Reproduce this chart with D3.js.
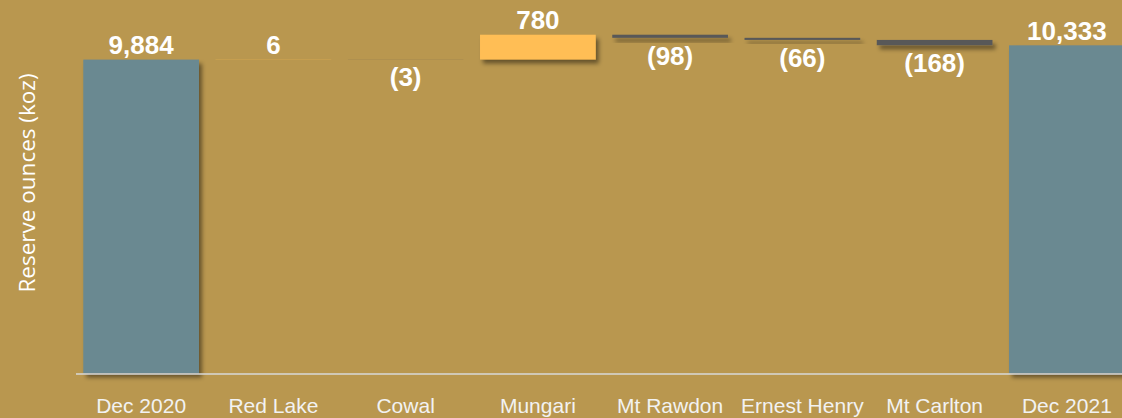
<!DOCTYPE html>
<html>
<head>
<meta charset="utf-8">
<script src="https://cdn.jsdelivr.net/npm/d3@7"></script>
<style>
  html, body { margin: 0; padding: 0; background: #B9974F; }
  svg { display: block; }
</style>
</head>
<body>
<div id="chart"></div>
<script>
// reserve reconciliation, koz
var categories = ["Dec 2020", "Red Lake", "Cowal", "Mungari", "Mt Rawdon", "Ernest Henry", "Mt Carlton", "Dec 2021"];
var values = [9884, 6, -3, 780, -98, -66, -168, 10333];
var kinds = ["total", "delta", "delta", "delta", "delta", "delta", "delta", "total"];

var width = 1122, height = 418;

var colors = {
    total: "#6B8991",
    up: "#FFBE55",
    down: "#595959"
};

// build running totals
var rows = [];
var running = 0;
categories.forEach(function (c, i) {
    var v = values[i];
    var r = { name: c, value: v, kind: kinds[i] };
    if (kinds[i] === "total") {
        r.y0 = 0;
        r.y1 = v;
        running = v;
        r.type = "total";
    } else {
        r.y0 = running;
        r.y1 = running + v;
        running = running + v;
        r.type = v >= 0 ? "up" : "down";
    }
    rows.push(r);
});

var fmt = d3.format(",");

var svg = d3.select("#chart")
    .append("svg")
    .attr("width", width)
    .attr("height", height);

svg.append("rect")
    .attr("width", width)
    .attr("height", height)
    .attr("fill", "#B9974F");

var defs = svg.append("defs");
defs.append("filter")
    .attr("id", "shadow")
    .attr("x", "-10%").attr("y", "-50%")
    .attr("width", "130%").attr("height", "300%")
    .append("feDropShadow")
    .attr("dx", 3)
    .attr("dy", 4)
    .attr("stdDeviation", 2)
    .attr("flood-color", "#000")
    .attr("flood-opacity", 0.45);

var xScale = d3.scaleBand()
    .domain(categories)
    .range([75, 1133])
    .paddingInner(0.125)
    .paddingOuter(0.0625);

var yScale = d3.scaleLinear()
    .domain([0, 11760])
    .range([373.5, 0]);

/* bars */
svg.selectAll(".bar")
    .data(rows)
    .enter()
    .append("rect")
    .attr("class", "bar")
    .attr("x", function (d) { return xScale(d.name); })
    .attr("width", xScale.bandwidth())
    .attr("y", function (d) { return yScale(Math.max(d.y0, d.y1)); })
    .attr("height", function (d) { return Math.abs(yScale(d.y0) - yScale(d.y1)); })
    .attr("fill", function (d) { return colors[d.type]; })
    .attr("filter", "url(#shadow)");

/* axis line */
svg.append("line")
    .attr("x1", 76)
    .attr("x2", width)
    .attr("y1", yScale(0) + 0.5)
    .attr("y2", yScale(0) + 0.5)
    .attr("stroke", "#D9D9D9")
    .attr("stroke-width", 1.5);

/* category labels */
svg.selectAll(".cat")
    .data(rows)
    .enter()
    .append("text")
    .attr("class", "cat")
    .attr("x", function (d) { return xScale(d.name) + xScale.bandwidth() / 2; })
    .attr("y", 413)
    .attr("text-anchor", "middle")
    .attr("fill", "#F2F2F2")
    .style("font-family", "'Liberation Sans', Arial, sans-serif")
    .style("font-size", "21px")
    .text(function (d) { return d.name; });

/* value labels */
svg.selectAll(".val")
    .data(rows)
    .enter()
    .append("text")
    .attr("class", "val")
    .attr("x", function (d) { return xScale(d.name) + xScale.bandwidth() / 2; })
    .attr("y", function (d) {
        if (d.value >= 0) return yScale(Math.max(d.y0, d.y1)) - 5.5;
        return yScale(Math.min(d.y0, d.y1)) + 27;
    })
    .attr("text-anchor", "middle")
    .attr("fill", "#FFFFFF")
    .style("font-family", "'Liberation Sans', Arial, sans-serif")
    .style("font-weight", "bold")
    .style("font-size", "26px")
    .text(function (d) {
        return d.value < 0 ? "(" + fmt(-d.value) + ")" : fmt(d.value);
    });

/* y title */
svg.append("text")
    .attr("transform", "translate(35,183) rotate(-90)")
    .attr("text-anchor", "middle")
    .attr("fill", "#FFFFFF")
    .style("font-family", "'Open Sans', sans-serif")
    .style("font-size", "22.5px")
    .text("Reserve ounces (koz)");
</script>
</body>
</html>
